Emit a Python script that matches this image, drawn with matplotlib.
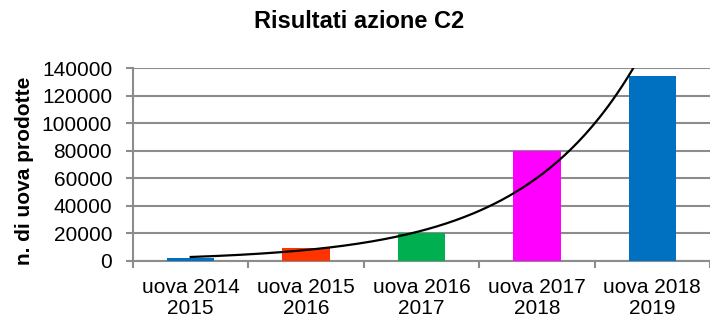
import numpy as np
import matplotlib
matplotlib.use("Agg")
import matplotlib.pyplot as plt

plt.rcParams['font.family'] = ['Liberation Sans', 'DejaVu Sans']

# categorie e numero di uova prodotte
categorie = ['uova 2014\n2015', 'uova 2015\n2016', 'uova 2016\n2017',
             'uova 2017\n2018', 'uova 2018\n2019']
uova = [2500, 9500, 20000, 80000, 134000]
colori = ['#0070C0', '#FF3300', '#00B050', '#FF00FF', '#0070C0']
yticks = [0, 20000, 40000, 60000, 80000, 100000, 120000, 140000]

fig = plt.figure(figsize=(7.1, 3.23), dpi=100)
ax = fig.add_axes([133 / 710, 62 / 323, 577 / 710, 193 / 323])

x = np.arange(1, len(uova) + 1)
ax.bar(x, uova, width=0.41, color=colori, zorder=3)

# linea di tendenza esponenziale
b, a = np.polyfit(x, np.log(uova), 1)
xt = np.linspace(1, 5, 200)
ax.plot(xt, np.exp(a + b * xt), color='black', lw=1.6, zorder=4)

ax.set_xlim(0.5, 5.5)
ax.set_ylim(0, 140000)
ax.set_yticks(yticks)
ax.set_yticklabels([str(v) for v in yticks], fontsize=15)
ax.set_xticks(x)
ax.set_xticklabels(categorie, fontsize=15, linespacing=1.15)
ax.set_xticks(np.arange(0.5, 6.0, 1.0), minor=True)
ax.tick_params(axis='x', which='major', length=0, pad=12)
ax.tick_params(axis='x', which='minor', length=5, width=1.5, color='#8c8c8c')
ax.tick_params(axis='y', length=5, width=1.5, color='#8c8c8c', pad=10)

ax.grid(axis='y', color='#8c8c8c', lw=1.5, zorder=0)
for s in ['top', 'right']:
    ax.spines[s].set_visible(False)
for s in ['left', 'bottom']:
    ax.spines[s].set_color('#8c8c8c')
    ax.spines[s].set_linewidth(1.5)

fig.text(359 / 710, 1 - 21 / 323, 'Risultati azione C2', fontsize=17,
         fontweight='bold', ha='center', va='center')
fig.text(25 / 710, 1 - 171 / 323, 'n. di uova prodotte', fontsize=15,
         fontweight='bold', ha='center', va='center', rotation=90)

fig.savefig('out.png', dpi=100)
